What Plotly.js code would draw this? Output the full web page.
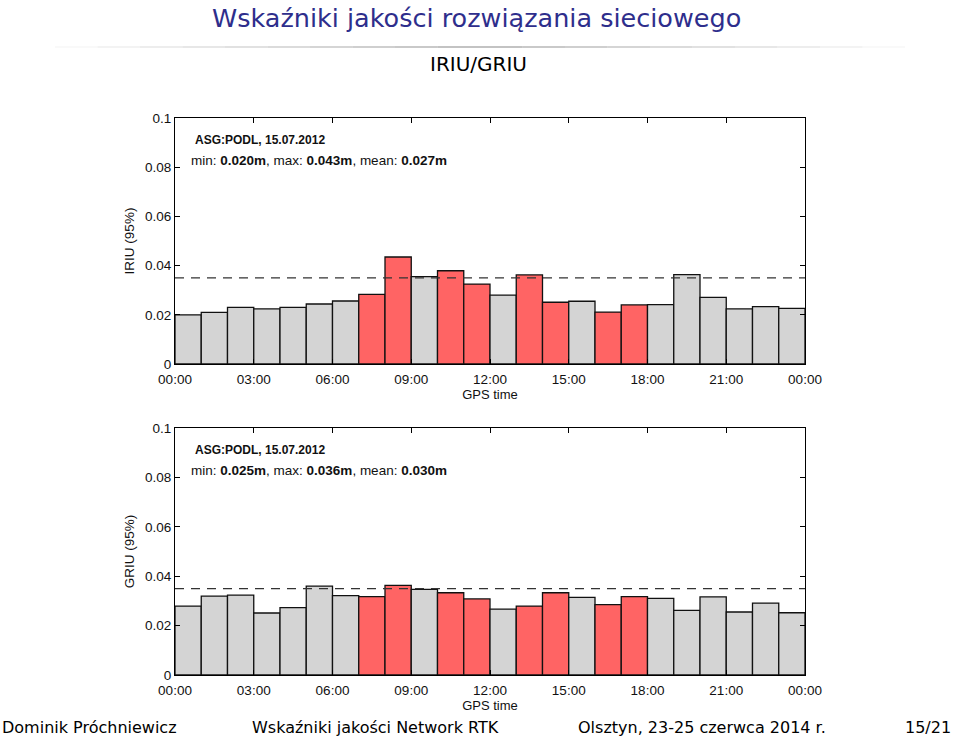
<!DOCTYPE html>
<html><head><meta charset="utf-8">
<script src="https://cdn.plot.ly/plotly-3.0.1.min.js"></script>
<style>html,body{margin:0;padding:0;background:#fff;}#chart{width:960px;height:743px;}</style>
</head><body><div id="chart"></div>
<script>
// ---- data ----
const hourCenters = [0.5,1.5,2.5,3.5,4.5,5.5,6.5,7.5,8.5,9.5,10.5,11.5,12.5,13.5,14.5,15.5,16.5,17.5,18.5,19.5,20.5,21.5,22.5,23.5];
const iriuValues = [0.0200,0.0210,0.0230,0.0224,0.0230,0.0244,0.0256,0.0283,0.0435,0.0355,0.0379,0.0325,0.0280,0.0362,0.0251,0.0255,0.0211,0.0240,0.0241,0.0363,0.0271,0.0224,0.0233,0.0226];
const griuValues = [0.0279,0.0319,0.0323,0.0251,0.0273,0.0360,0.0321,0.0317,0.0363,0.0347,0.0333,0.0308,0.0267,0.0279,0.0333,0.0314,0.0285,0.0317,0.0310,0.0262,0.0316,0.0255,0.0291,0.0252];
const highlighted = [0,0,0,0,0,0,0,1,1,0,1,1,0,1,1,0,1,1,0,0,0,0,0,0];
const threshold = [0.035, 0.035];
const thresholdX = [0, 24];
const xTickVals = [0,3,6,9,12,15,18,21,24];
const xTickText = ['00:00','03:00','06:00','09:00','12:00','15:00','18:00','21:00','00:00'];
const yTickVals = [0,0.02,0.04,0.06,0.08,0.1];
const yTickText = ['0','0.02','0.04','0.06','0.08','0.1'];
const iriuStats = {station:'ASG:PODL, 15.07.2012', min:'0.020m', max:'0.043m', mean:'0.027m'};
const griuStats = {station:'ASG:PODL, 15.07.2012', min:'0.025m', max:'0.036m', mean:'0.030m'};

const RED = '#ff6464', GRAY = '#d4d4d4';
const colors = highlighted.map(h => h ? RED : GRAY);
const FONT = 'Liberation Sans, Arial, sans-serif';

function bars(vals, xa, ya){
  return {type:'bar', x:hourCenters, y:vals, width:1, xaxis:xa, yaxis:ya,
    marker:{color:colors, line:{color:'#111', width:1.3}}, showlegend:false, hoverinfo:'skip'};
}
function dash(xa, ya){
  return {type:'scatter', mode:'lines', x:thresholdX, y:threshold, xaxis:xa, yaxis:ya,
    line:{color:'#333', width:1.3, dash:'9px,7px'}, showlegend:false, hoverinfo:'skip'};
}
function xax(anchor, dom){
  return {domain:dom, anchor:anchor, range:[0,24], tickvals:xTickVals, ticktext:xTickText,
    ticks:'inside', ticklen:5, tickcolor:'#000', showline:true, linecolor:'#000', linewidth:1,
    mirror:'ticks', showgrid:false, zeroline:false, tickfont:{family:FONT,size:13.5,color:'#111'},
    ticklabelstandoff:3,
    title:{text:'GPS time', font:{family:FONT,size:13,color:'#111'}, standoff:2}};
}
function yax(anchor, dom, title){
  return {domain:dom, anchor:anchor, range:[0,0.1], tickvals:yTickVals, ticktext:yTickText,
    ticks:'inside', ticklen:5, tickcolor:'#000', showline:true, linecolor:'#000', linewidth:1,
    mirror:'ticks', showgrid:false, zeroline:false, tickfont:{family:FONT,size:13.5,color:'#111'},
    title:{text:title, font:{family:FONT,size:13.5,color:'#111'}, standoff:7}};
}
function statsAnn(s, xa, ya, yTop){
  return [
    {xref:xa+' domain', yref:ya+' domain', x:0.028, y:yTop, xanchor:'left', yanchor:'middle', showarrow:false,
     text:'<b>'+s.station+'</b>', font:{family:FONT,size:12,color:'#111'}},
    {xref:xa+' domain', yref:ya+' domain', x:0.022, y:yTop-0.083, xanchor:'left', yanchor:'middle', showarrow:false,
     text:'min: <b>'+s.min+'</b>, max: <b>'+s.max+'</b>, mean: <b>'+s.mean+'</b>', font:{family:FONT,size:13.5,color:'#111'}}
  ];
}

const xd = [175/960, 805/960];
const yTopDom = [1-364/743, 1-118/743];
const yBotDom = [1-675/743, 1-428/743];

const data = [bars(iriuValues,'x','y'), dash('x','y'), bars(griuValues,'x2','y2'), dash('x2','y2')];

// faded separator line under the slide title
const sepShapes = [];
const nSeg = 20, sx0 = 55/960, sx1 = 905/960, sy = 1-47/743;
for (let i = 0; i < nSeg; i++) {
  const t = (i + 0.5) / nSeg;
  const k = 1 - Math.abs(t - 0.5) * 2;
  const g = Math.round(250 - k * 120);
  sepShapes.push({type:'line', xref:'paper', yref:'paper',
    x0: sx0 + (sx1 - sx0) * i / nSeg, x1: sx0 + (sx1 - sx0) * (i + 1) / nSeg, y0: sy, y1: sy,
    line:{color:'rgb('+g+','+g+','+g+')', width:1.2}});
}

const TF = '"DejaVu Sans", "Open Sans", sans-serif';
const FS = 16;
const layout = {
  width:960, height:743, margin:{l:0,r:0,t:0,b:0}, paper_bgcolor:'#fff', plot_bgcolor:'#fff',
  bargap:0,
  xaxis: xax('y', xd), yaxis: yax('x', yTopDom, 'IRIU (95%)'),
  xaxis2: xax('y2', xd), yaxis2: yax('x2', yBotDom, 'GRIU (95%)'),
  shapes: sepShapes,
  annotations: [
    {xref:'paper', yref:'paper', x:476/960, y:1-18/743, xanchor:'center', yanchor:'middle', showarrow:false,
     text:'Wskaźniki jakości rozwiązania sieciowego', font:{family:TF, size:25.5, color:'#2e2e8c'}},
    {xref:'paper', yref:'paper', x:478/960, y:1-64/743, xanchor:'center', yanchor:'middle', showarrow:false,
     text:'IRIU/GRIU', font:{family:TF, size:20, color:'#000'}},
    {xref:'paper', yref:'paper', x:0.0, y:1-727/743, xanchor:'left', yanchor:'middle', showarrow:false,
     text:'Dominik Próchniewicz', font:{family:TF, size:FS, color:'#000'}},
    {xref:'paper', yref:'paper', x:375/960, y:1-727/743, xanchor:'center', yanchor:'middle', showarrow:false,
     text:'Wskaźniki jakości Network RTK', font:{family:TF, size:FS, color:'#000'}},
    {xref:'paper', yref:'paper', x:702/960, y:1-727/743, xanchor:'center', yanchor:'middle', showarrow:false,
     text:'Olsztyn, 23-25 czerwca 2014 r.', font:{family:TF, size:FS, color:'#000'}},
    {xref:'paper', yref:'paper', x:953/960, y:1-727/743, xanchor:'right', yanchor:'middle', showarrow:false,
     text:'15/21', font:{family:TF, size:FS, color:'#000'}}
  ].concat(statsAnn(iriuStats,'x','y',0.91)).concat(statsAnn(griuStats,'x2','y2',0.91))
};
Plotly.newPlot('chart', data, layout, {staticPlot:true, displayModeBar:false});
</script></body></html>
